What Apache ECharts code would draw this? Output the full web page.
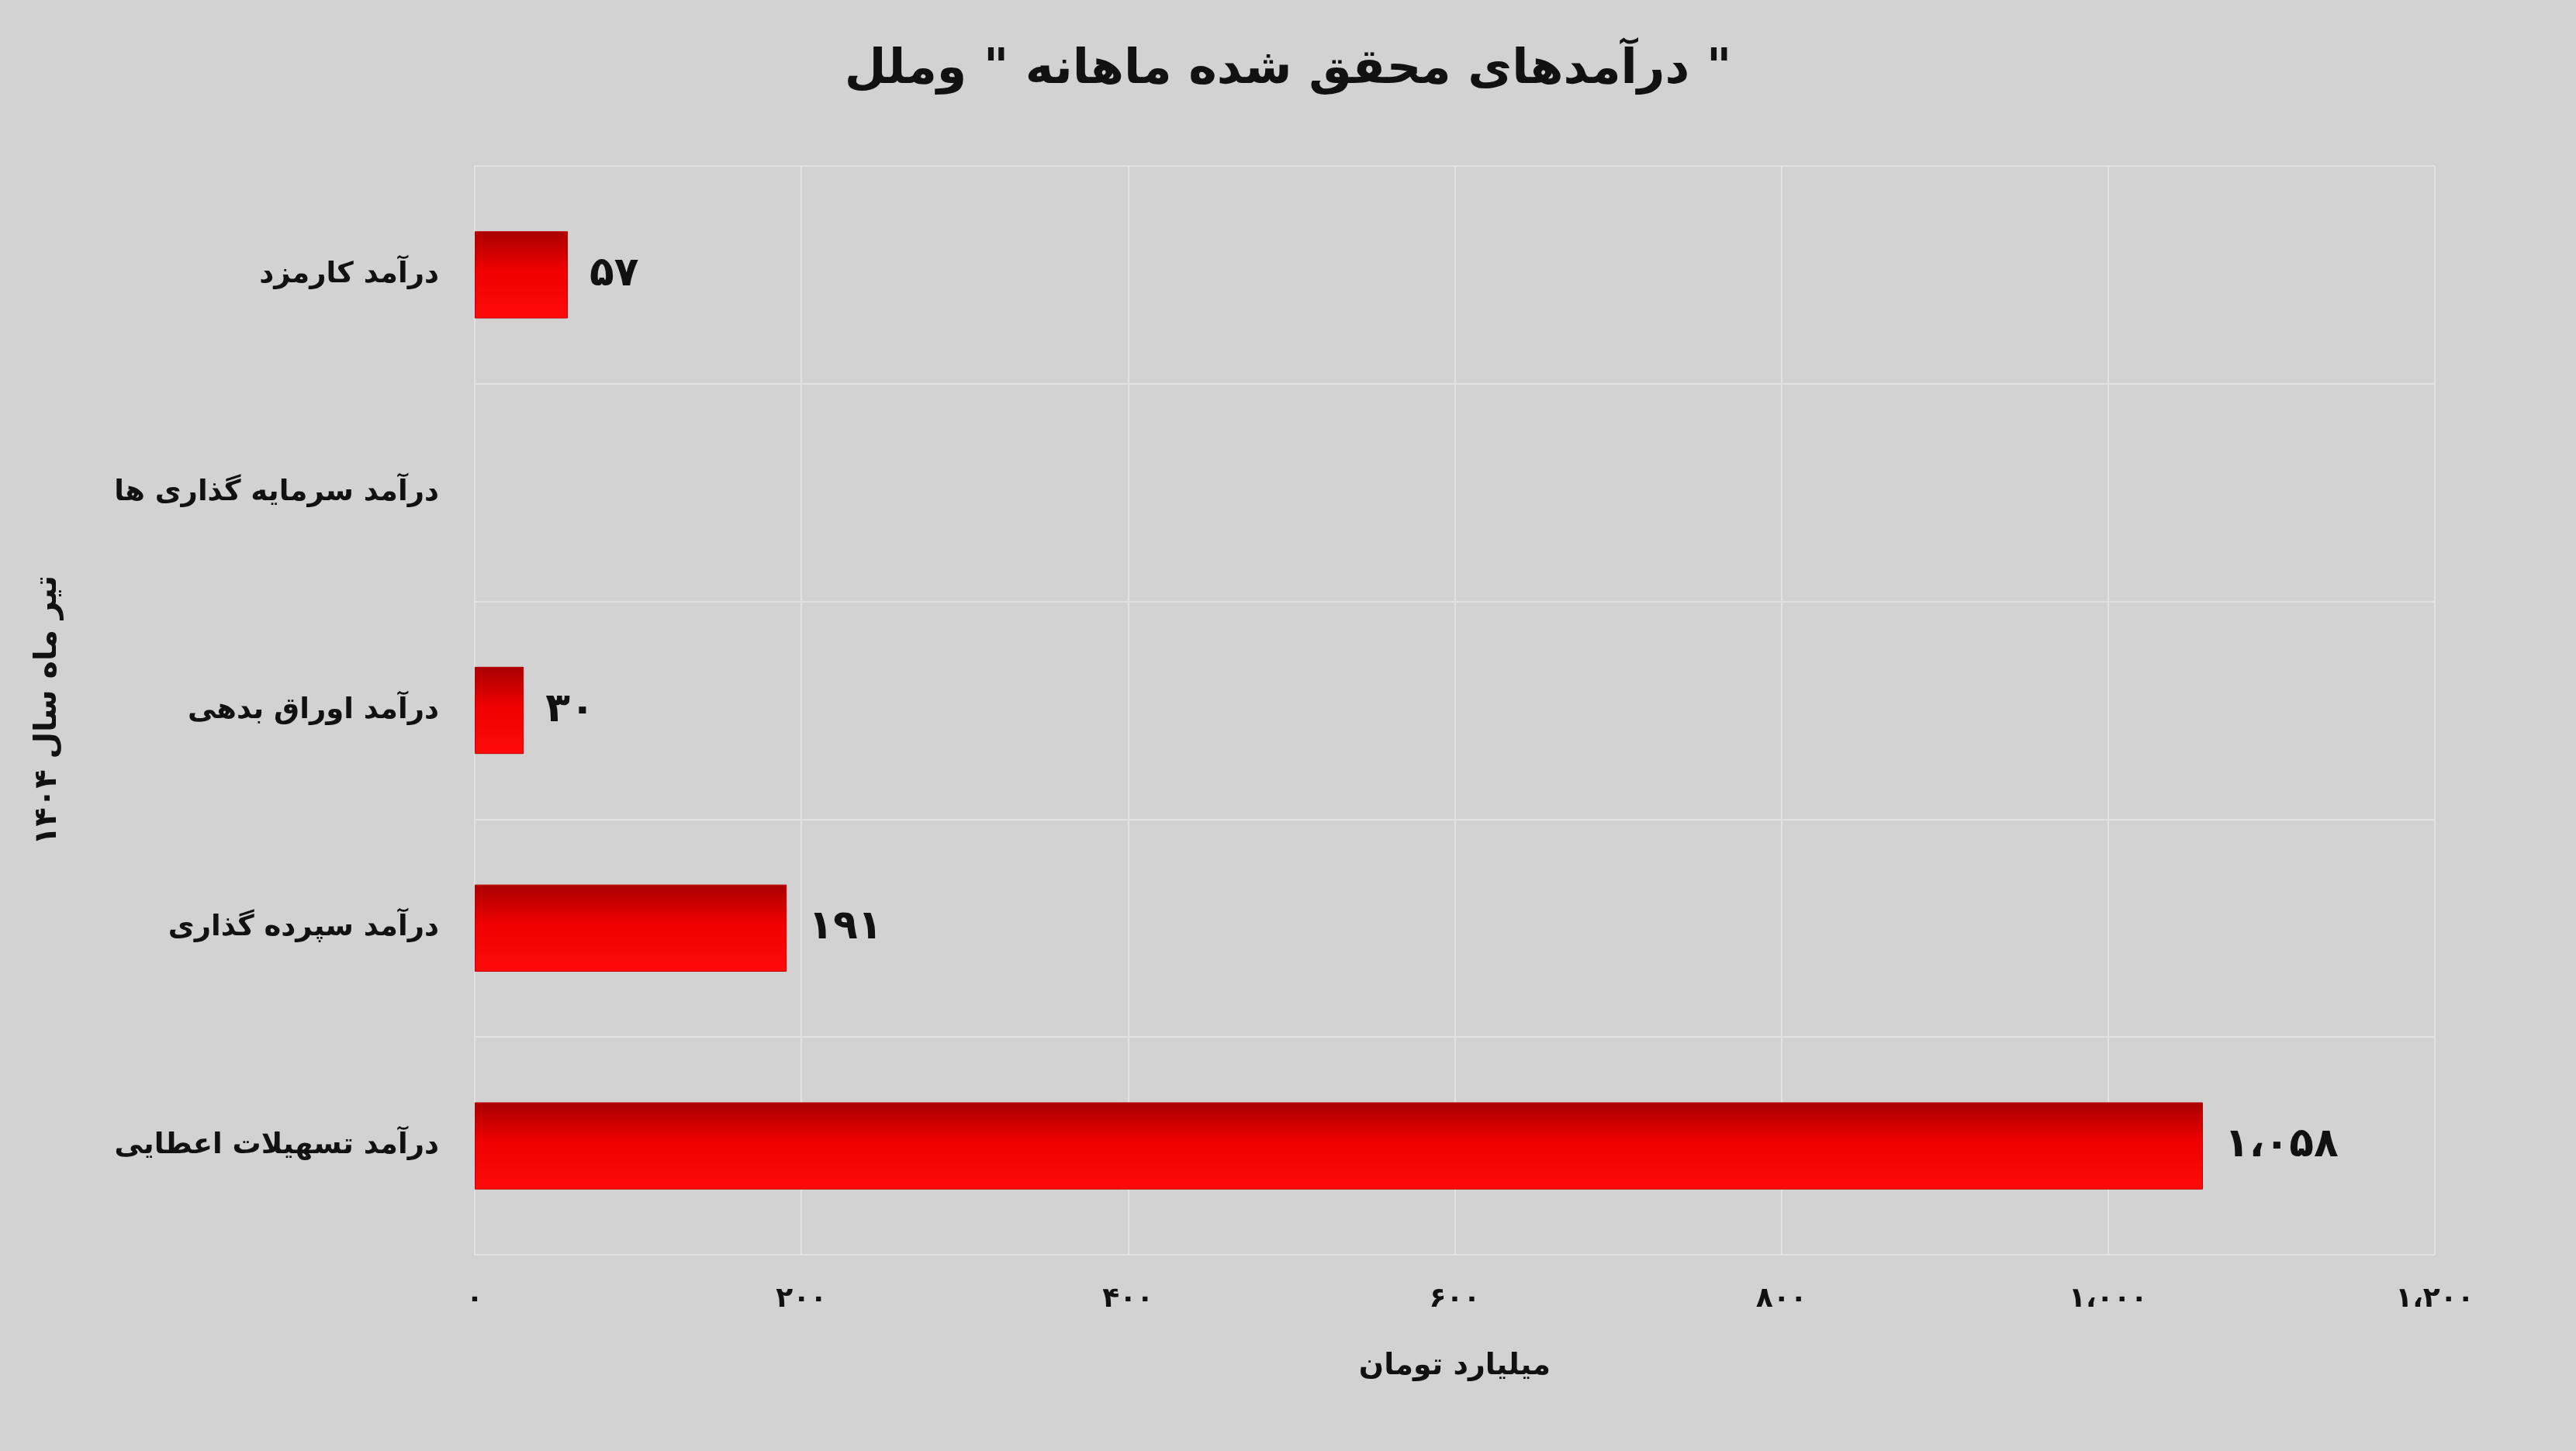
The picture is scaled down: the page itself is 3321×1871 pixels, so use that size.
<!DOCTYPE html>
<html><head><meta charset="utf-8">
<script src="https://cdn.jsdelivr.net/npm/echarts@6/dist/echarts.min.js"></script>
<style>html,body{margin:0;padding:0;background:#d2d2d2}#c{width:3321px;height:1871px}</style>
</head><body><div id="c"></div>
<script>
const categories = ['درآمد تسهیلات اعطایی','درآمد سپرده گذاری','درآمد اوراق بدهی','درآمد سرمایه گذاری ها','درآمد کارمزد'];
const values = [1058, 191, 30, null, 57];
const titleText = 'درآمدهای محقق شده ماهانه " وملل "';
const xName = 'میلیارد تومان';
const yName = 'تیر ماه سال ۱۴۰۴';
function fa(n){
  let s = String(n).replace(/\B(?=(\d{3})+(?!\d))/g, '،');
  return s.replace(/\d/g, d => '۰۱۲۳۴۵۶۷۸۹'[d]);
}
const F = 'DejaVu Sans';
const chart = echarts.init(document.getElementById('c'));
chart.setOption({
  backgroundColor:'#d2d2d2',
  title:{text:titleText,left:'center',top:55,textStyle:{fontFamily:F,fontSize:62,fontWeight:'bold',color:'#111'}},
  grid:{left:612,right:182,top:214,bottom:253},
  xAxis:{type:'value',min:0,max:1200,interval:200,
    name:xName,nameLocation:'middle',nameGap:125,
    nameTextStyle:{fontFamily:F,fontSize:38,fontWeight:'bold',color:'#111'},
    axisLabel:{formatter:v=>fa(v),fontFamily:F,fontSize:36,fontWeight:'bold',color:'#111',margin:40},
    axisLine:{show:false},axisTick:{show:false},
    splitLine:{show:true,lineStyle:{color:'#e2e2e2',width:2}}},
  yAxis:{type:'category',data:categories,
    name:yName,nameLocation:'middle',nameGap:530,nameRotate:90,
    nameTextStyle:{fontFamily:F,fontSize:40,fontWeight:'bold',color:'#111'},
    axisLabel:{fontFamily:F,fontSize:37,fontWeight:'bold',color:'#111',margin:46},
    axisLine:{show:true,lineStyle:{color:'#e2e2e2',width:2}},axisTick:{show:false},
    splitLine:{show:true,lineStyle:{color:'#e2e2e2',width:2}}},
  series:[{type:'bar',data:values,barWidth:'40%',
    itemStyle:{color:new echarts.graphic.LinearGradient(0,0,0,1,[{offset:0,color:'#a80000'},{offset:0.45,color:'#f00000'},{offset:1,color:'#ff0a0a'}]),
      borderColor:'#c00000',borderWidth:1},
    label:{show:true,position:'right',distance:28,formatter:p=>p.value==null?'':fa(p.value),
      fontFamily:F,fontSize:52,fontWeight:'bold',color:'#111'}}]
});
</script></body></html>
